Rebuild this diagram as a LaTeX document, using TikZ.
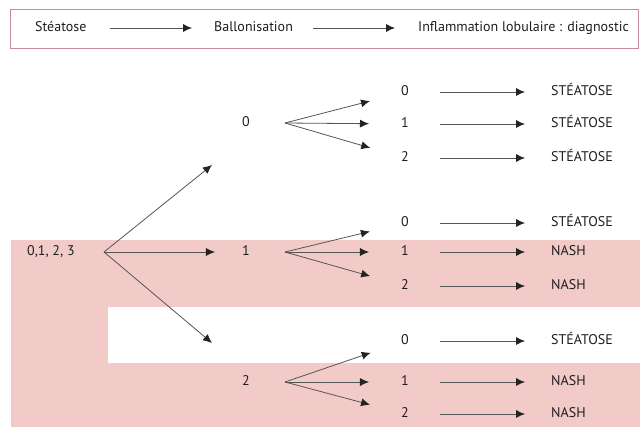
\documentclass[tikz,border=0pt]{standalone}
\usepackage{fontspec}
\setmainfont{PT Sans}
\usetikzlibrary{arrows.meta}

\definecolor{nashpink}{RGB}{242,203,201}
\definecolor{framepink}{RGB}{196,140,152}
\definecolor{arrowgray}{RGB}{85,85,85}
\definecolor{headgray}{RGB}{35,35,35}
\definecolor{textgray}{RGB}{30,30,30}

\tikzset{
  arr/.style={draw=arrowgray, line width=0.8pt,
              -{Latex[length=9pt,width=8pt,color=headgray]}},
  lbl/.style={inner sep=0pt, text height=1.5ex, text depth=0.25ex, text=textgray,
              font=\fontsize{14}{16}\selectfont},
}

\begin{document}
\begin{tikzpicture}[x=1pt,y=-1pt]
    \useasboundingbox (0,0) rectangle (640,428);

    % pink bands
    \fill[nashpink] (11,240) rectangle (640,427);
    \fill[white]    (108,307) rectangle (640,363);

    % header
    \draw[framepink, line width=0.6pt] (10,9) rectangle (638,48);
    \node[lbl, anchor=west] (hsteat) at (35,28)  {Stéatose};
    \node[lbl, anchor=west] (hballo) at (214,28) {Ballonisation};
    \node[lbl, anchor=west] (hinfl)  at (418,28) {Inflammation lobulaire : diagnostic};
    \draw[arr, shorten <=23pt, shorten >=22pt] (hsteat) -- (hballo);
    \draw[arr, shorten <=20pt, shorten >=23pt] (hballo) -- (hinfl);

    % steatose
    \node[lbl, anchor=west] (root) at (27,252) {0,1, 2, 3};
    \coordinate (rootfork) at (104,252);
    \coordinate (tip0) at (212,165);
    \coordinate (tip2) at (212,343);

    % ballonisation
    \node[lbl] (b0) at (246,123) {0};
    \node[lbl] (b1) at (246,252) {1};
    \node[lbl] (b2) at (246,382) {2};
    \coordinate (f0) at (285,123);
    \coordinate (f1) at (285,252);
    \coordinate (f2) at (285,382);

    \draw[arr] (rootfork) -- (tip0);
    \draw[arr, shorten >=27pt] (rootfork) -- (b1);
    \draw[arr] (rootfork) -- (tip2);

    % inflammation lobulaire
    \node[lbl] (d00) at (405,92)  {0};
    \node[lbl] (d01) at (405,124) {1};
    \node[lbl] (d02) at (405,158) {2};
    \node[lbl] (d10) at (405,223) {0};
    \node[lbl] (d11) at (405,252) {1};
    \node[lbl] (d12) at (405,286) {2};
    \node[lbl] (d20) at (405,341) {0};
    \node[lbl] (d21) at (405,382) {1};
    \node[lbl] (d22) at (405,414) {2};

    \draw[arr, shorten >=32pt] (f0) -- (d00);
    \draw[arr, shorten >=32pt] (f0) -- (d01);
    \draw[arr, shorten >=32pt] (f0) -- (d02);
    \draw[arr, shorten >=32pt] (f1) -- (d10);
    \draw[arr, shorten >=32pt] (f1) -- (d11);
    \draw[arr, shorten >=32pt] (f1) -- (d12);
    \draw[arr, shorten >=32pt] (f2) -- (d20);
    \draw[arr, shorten >=32pt] (f2) -- (d21);
    \draw[arr, shorten >=32pt] (f2) -- (d22);

    % diagnostic
    \node[lbl, anchor=west] (r00) at (551,92)  {STÉATOSE};
    \node[lbl, anchor=west] (r01) at (551,124) {STÉATOSE};
    \node[lbl, anchor=west] (r02) at (551,158) {STÉATOSE};
    \node[lbl, anchor=west] (r10) at (551,223) {STÉATOSE};
    \node[lbl, anchor=west] (r11) at (551,252) {NASH};
    \node[lbl, anchor=west] (r12) at (551,286) {NASH};
    \node[lbl, anchor=west] (r20) at (551,341) {STÉATOSE};
    \node[lbl, anchor=west] (r21) at (551,382) {NASH};
    \node[lbl, anchor=west] (r22) at (551,414) {NASH};

    \draw[arr, shorten <=31pt, shorten >=26pt] (d00) -- (r00);
    \draw[arr, shorten <=31pt, shorten >=26pt] (d01) -- (r01);
    \draw[arr, shorten <=31pt, shorten >=26pt] (d02) -- (r02);
    \draw[arr, shorten <=31pt, shorten >=26pt] (d10) -- (r10);
    \draw[arr, shorten <=31pt, shorten >=26pt] (d11) -- (r11);
    \draw[arr, shorten <=31pt, shorten >=26pt] (d12) -- (r12);
    \draw[arr, shorten <=31pt, shorten >=26pt] (d20) -- (r20);
    \draw[arr, shorten <=31pt, shorten >=26pt] (d21) -- (r21);
    \draw[arr, shorten <=31pt, shorten >=26pt] (d22) -- (r22);
\end{tikzpicture}
\end{document}
